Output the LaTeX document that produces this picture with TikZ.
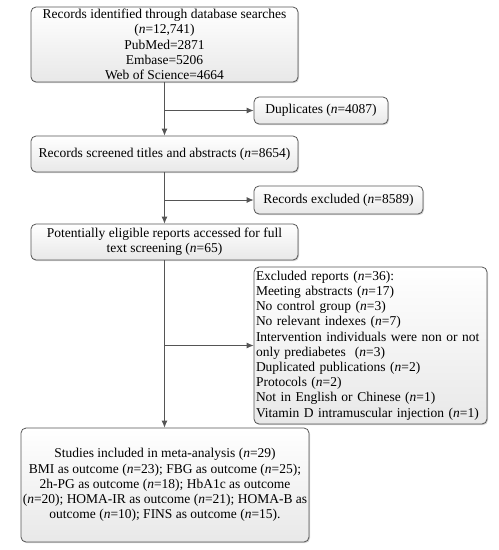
\documentclass[tikz,border=0pt]{standalone}
\usepackage{fontspec}
\setmainfont{Liberation Serif}
\usetikzlibrary{arrows.meta,shadows}
\definecolor{edgegray}{HTML}{555555}
\definecolor{fillbot}{HTML}{E8E8E8}
\tikzset{
  box/.style={draw=edgegray, line width=0.8pt, rounded corners=5pt,
    top color=white, bottom color=fillbot, inner sep=0pt,
    drop shadow={shadow xshift=1pt, shadow yshift=-1.2pt, opacity=0.35, fill=gray},
    font=\fontsize{13.5}{15.2}\selectfont},
  arr/.style={draw=edgegray, line width=0.8pt, -{Latex[length=7pt,width=6pt]}},
  ln/.style={draw=edgegray, line width=0.8pt}
}
\newcommand{\nn}{\textit{n}}
\begin{document}
\begin{tikzpicture}[x=1pt,y=-1pt]
\useasboundingbox (0,0) rectangle (499,550);
\node[box, minimum width=267pt, minimum height=75pt, align=center] (b1) at (164.5,44.5)
  {Records identified through database searches\\(\nn=12,741)\\PubMed=2871\\Embase=5206\\Web of Science=4664};
\node[box, minimum width=134pt, minimum height=27pt] (dup) at (321,110.5) {Duplicates (\nn=4087)};
\node[box, minimum width=267pt, minimum height=36pt] (b2) at (164.5,154) {Records screened titles and abstracts (\nn=8654)};
\node[box, minimum width=169pt, minimum height=28pt] (exc) at (338.5,200) {Records excluded (\nn=8589)};
\node[box, minimum width=267pt, minimum height=36pt, align=center] (b3) at (164.5,242)
  {Potentially eligible reports accessed for full\\text screening (\nn=65)};
\node[box, minimum width=233pt, minimum height=157pt, text width=229pt, align=left] (rep) at (370.5,345.5)
  {Excluded reports (\nn=36):\\Meeting abstracts (\nn=17)\\No control group (\nn=3)\\No relevant indexes (\nn=7)\\Intervention individuals were non or not\\only prediabetes\ \ (\nn=3)\\Duplicated publications (\nn=2)\\Protocols (\nn=2)\\Not in English or Chinese (\nn=1)\\Vitamin D intramuscular injection (\nn=1)};
\node[box, minimum width=288pt, minimum height=114pt, align=center] (b4) at (165,485)
  {Studies included in meta-analysis (\nn=29)\\BMI as outcome (\nn=23); FBG as outcome (\nn=25);\\2h-PG as outcome (\nn=18); HbA1c as outcome\\(\nn=20); HOMA-IR as outcome (\nn=21); HOMA-B as\\outcome (\nn=10); FINS as outcome (\nn=15).};
\draw[arr] (b1.south) -- (b2.north);
\draw[arr] (b1.south |- dup.west) -- (dup.west);
\draw[arr] (b2.south) -- (b3.north);
\draw[arr] (b2.south |- exc.west) -- (exc.west);
\draw[arr] (b3.south) -- (b3.south |- b4.north);
\draw[arr] (b3.south |- rep.west) -- (rep.west);
\end{tikzpicture}
\end{document}
